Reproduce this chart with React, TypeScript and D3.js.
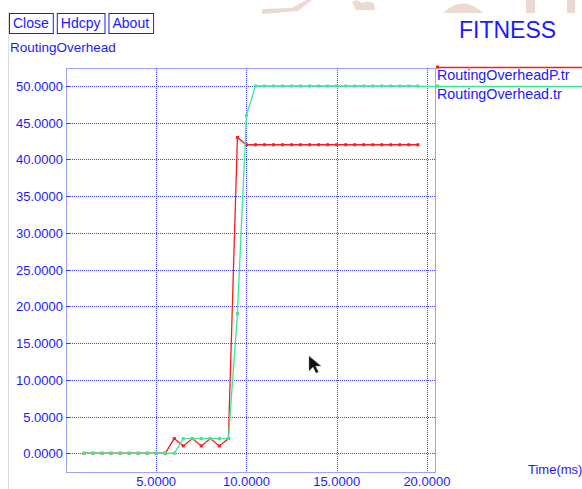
import React, { useEffect, useRef } from 'react';
import * as d3 from 'd3';

// time (ms) values, sampled every 0.5
const times = [1.0, 1.5, 2.0, 2.5, 3.0, 3.5, 4.0, 4.5, 5.0, 5.5, 6.0, 6.5, 7.0, 7.5, 8.0, 8.5, 9.0, 9.5, 10.0,
    10.5, 11.0, 11.5, 12.0, 12.5, 13.0, 13.5, 14.0, 14.5, 15.0, 15.5, 16.0, 16.5, 17.0, 17.5, 18.0, 18.5, 19.0, 19.5];

const overheadP = [0, 0, 0, 0, 0, 0, 0, 0, 0, 0, 2, 1, 2, 1, 2, 1, 2, 43, 42,
    42, 42, 42, 42, 42, 42, 42, 42, 42, 42, 42, 42, 42, 42, 42, 42, 42, 42, 42];

const overhead = [0, 0, 0, 0, 0, 0, 0, 0, 0, 0, 0, 2, 2, 2, 2, 2, 2, 19, 46,
    50, 50, 50, 50, 50, 50, 50, 50, 50, 50, 50, 50, 50, 50, 50, 50, 50, 50, 50];

const xTicks = [5, 10, 15, 20];
const yTicks = [0, 5, 10, 15, 20, 25, 30, 35, 40, 45, 50];
const buttons = ['Close', 'Hdcpy', 'About'];
const seriesNames = ['RoutingOverheadP.tr', 'RoutingOverhead.tr'];

const BLUE = '#1a1aff';
const GRID = '#4040ff';
const RED = '#ff1a1a';
const GREEN = '#3ce896';

const App = () => {
    const ref = useRef(null);

    useEffect(() => {
        const svgWidth = 582;
        const svgHeight = 489;
        const margin = { top: 68, right: 147, bottom: 17, left: 66 };

        const svg = d3.select(ref.current)
            .attr('width', svgWidth)
            .attr('height', svgHeight)
            .style('font-family', '"Liberation Sans", Arial, sans-serif');
        svg.selectAll('*').remove();

        svg.append('rect').attr('width', svgWidth).attr('height', svgHeight).attr('fill', '#fff');

        // faint watermark at the top edge
        const wm = svg.append('g').attr('fill', '#ecd9d1');
        wm.append('path').attr('d', 'M262,9 L292,8 L306,0 L312,0 L298,11 L262,14 Z');
        wm.append('path').attr('d', 'M352,2 Q356,-2 362,3 Q368,0 374,3 L375,10 L356,10 Z');
        wm.append('path').attr('d', 'M443,13 Q463,-6 483,13 Z');
        wm.append('rect').attr('x', 526).attr('y', 0).attr('width', 9).attr('height', 13);
        wm.append('rect').attr('x', 567).attr('y', 0).attr('width', 8).attr('height', 13);

        // left window edge
        svg.append('line').attr('x1', 8.5).attr('x2', 8.5).attr('y1', 12).attr('y2', svgHeight)
            .attr('stroke', '#dddddd');

        // buttons
        let bx = 9;
        buttons.forEach(b => {
            const t = svg.append('text').attr('x', bx + 4).attr('y', 28)
                .attr('font-size', 14).attr('fill', BLUE).text(b);
            const w = t.node().getComputedTextLength() + 8;
            svg.append('rect').attr('x', bx + 0.5).attr('y', 13.5).attr('width', w).attr('height', 20)
                .attr('fill', 'none').attr('stroke', BLUE);
            bx += w + 4;
        });

        svg.append('text').attr('x', 459).attr('y', 38).attr('font-size', 23)
            .attr('fill', BLUE).text('FITNESS');
        svg.append('text').attr('x', 10).attr('y', 52).attr('font-size', 13.5)
            .attr('fill', BLUE).text('RoutingOverhead');

        const x = d3.scaleLinear().domain([0, 20.45]).range([margin.left, svgWidth - margin.right]);
        const y = d3.scaleLinear().domain([-2.55, 52.45]).range([svgHeight - margin.bottom, margin.top]);
        const px = v => Math.round(v) + 0.5;

        const grid = svg.append('g').attr('stroke', GRID).attr('stroke-dasharray', '1,1');
        yTicks.forEach(t => {
            grid.append('line').attr('x1', margin.left).attr('x2', x.range()[1])
                .attr('y1', px(y(t))).attr('y2', px(y(t)));
        });
        xTicks.forEach(t => {
            grid.append('line').attr('y1', margin.top).attr('y2', y.range()[0])
                .attr('x1', px(x(t))).attr('x2', px(x(t)));
        });
        // frame
        grid.append('rect').attr('x', px(x.range()[0])).attr('y', px(margin.top))
            .attr('width', Math.round(x.range()[1] - x.range()[0]))
            .attr('height', Math.round(y.range()[0] - margin.top))
            .attr('fill', 'none');

        // tick stubs
        const stubs = svg.append('g').attr('stroke', GRID);
        yTicks.forEach(t => {
            stubs.append('line').attr('x1', margin.left).attr('x2', margin.left + 4)
                .attr('y1', px(y(t))).attr('y2', px(y(t)));
        });

        const fmt = d3.format('.4f');
        svg.append('g').selectAll('text').data(yTicks).enter().append('text')
            .attr('x', 63).attr('y', d => y(d) + 5).attr('text-anchor', 'end')
            .attr('font-size', 13).attr('fill', BLUE).text(d => fmt(d));
        svg.append('g').selectAll('text').data(xTicks).enter().append('text')
            .attr('x', d => x(d)).attr('y', 486).attr('text-anchor', 'middle')
            .attr('font-size', 13).attr('fill', BLUE).text(d => fmt(d));
        svg.append('text').attr('x', 528).attr('y', 474).attr('font-size', 13)
            .attr('fill', BLUE).text('Time(ms)');

        const line = d3.line()
            .x(d => x(d[0]))
            .y(d => y(d[1]));

        const series = [
            { values: overheadP, color: RED },
            { values: overhead, color: GREEN }
        ];

        series.forEach(s => {
            const pts = times.map((t, i) => [t, s.values[i]]);
            svg.append('path').datum(pts)
                .attr('fill', 'none').attr('stroke', s.color).attr('stroke-width', 1.3)
                .attr('d', line);
            svg.append('g').selectAll('rect').data(pts).enter().append('rect')
                .attr('x', d => x(d[0]) - 1.5).attr('y', d => y(d[1]) - 1.5)
                .attr('width', 3).attr('height', 3).attr('fill', s.color);
        });

        // legend
        const legendY = [67, 86];
        seriesNames.forEach((name, i) => {
            const s = series[i];
            const x0 = i === 0 ? 437 : x(times[times.length - 1]);
            svg.append('line').attr('x1', x0).attr('x2', svgWidth)
                .attr('y1', legendY[i] + 0.5).attr('y2', legendY[i] + 0.5)
                .attr('stroke', s.color).attr('stroke-width', 1.3);
            svg.append('rect').attr('x', 436).attr('y', legendY[i] - 1.5)
                .attr('width', 3).attr('height', 3).attr('fill', s.color);
            svg.append('text').attr('x', 437).attr('y', legendY[i] + 12.5)
                .attr('font-size', 14.3).attr('fill', BLUE).text(name);
        });

        // mouse pointer
        svg.append('path')
            .attr('d', 'M309,356 L309,371 L313,367 L316,373 L318.5,372 L315.5,366 L321,366 Z')
            .attr('fill', '#111').attr('stroke', '#888').attr('stroke-width', 0.5);
    }, []);

    return <svg ref={ref} style={{ position: 'absolute', left: 0, top: 0, display: 'block' }} />;
};

export default App;
